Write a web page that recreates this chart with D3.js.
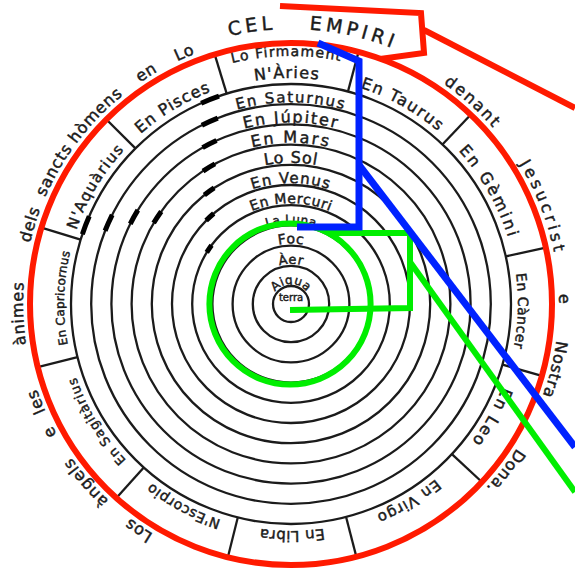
<!DOCTYPE html>
<meta charset="utf-8">
<script src="https://d3js.org/d3.v7.min.js"></script>
<style>
body { margin: 0; background: #fff; }
text { font-family: "DejaVu Sans", sans-serif; fill: #1b1b1b; stroke: #1b1b1b; stroke-width: 0.45px; }
</style>
<div id="my_dataviz"></div>
<script>
// spheres, from the centre out
var spheres = ["terra", "Aigua", "Àer", "Foc", "La Luna", "En Mercuri", "En Venus", "Lo Sol", "En Mars", "En Júpiter", "En Saturnus"];
// zodiac, starting at the top
var signs = ["N'Àries", "En Taurus", "En Gèmini", "En Càncer", "En Leo", "En Virgo", "En Libra", "N'Escorpio", "En Sagitàrius", "En Capricornus", "N'Aquàrius", "En Pisces"];
var signBounds = [-17, 15, 43.5, 77.5, 106, 133, 165.5, 194, 222, 256, 287, 315, 343];
// words written round the outside, with the angle of each
var outerWords = ["Los", "àngels", "e", "les", "ànimes", "dels", "sancts", "hòmens", "en", "Lo", "CEL", "EMPIRI", "denant", "Jesucrist", "e", "Nostra", "Dona."];
var outerAngles = [214, 229, 242, 249, 268, 287, 299.5, 314, 328, 337, 352, 13, 42, 69, 89, 104, 128];
// heavy pen marks on the left: sphere, angle
var marks = [[11, -21.6], [10, -24], [9, -27], [8, -31], [7, -36], [6, -43], [5, -56], [11, -69], [10, -66], [9, -61], [8, -57]];
// coloured pointers
var redBox = [[280, 6], [421, 13], [424, 53], [380, 59]];
var redArrow = [[424, 30], [575, 108]];
var blueLine = [[318, 43], [359, 61], [359, 227], [297, 227]];
var blueArrow = [[359, 165], [575, 447]];
var greenLine = [[327, 233], [410, 233], [410, 308], [290, 310]];
var greenArrow = [[410, 262], [575, 492]];

var width = 575, height = 570;
var cx = 291, cy = 304;

// lettering: font size, letter spacing
var sphereStyle = {"terra": [10, 0], "Aigua": [12, 0.5], "Àer": [13, 0.5], "Foc": [14, 0.5], "La Luna": [12, 0.4],
  "En Mercuri": [14, 0.6], "En Venus": [15, 1.2], "Lo Sol": [16, 0.8], "En Mars": [16, 2.1], "En Júpiter": [16, 1.7], "En Saturnus": [15, 1.7]};
var signStyle = {"N'Àries": [16, 1.2], "En Taurus": [16, 1.5], "En Gèmini": [16, 2.3], "En Càncer": [14, 0.4], "En Leo": [16, 1.8],
  "En Virgo": [15, 1], "En Libra": [15, 0.4], "N'Escorpio": [14, 0.6], "En Sagitàrius": [13, 1], "En Capricornus": [12, 0.2],
  "N'Aquàrius": [15, 1.4], "En Pisces": [16, 1]};
var outerStyle = {"CEL": [19, 4, 275], "EMPIRI": [19, 4, 275], "denant": [16, 2, 268], "Jesucrist": [16, 3.5, 268]};

var svg = d3.select("#my_dataviz")
  .append("svg")
    .attr("width", width)
    .attr("height", height);

var x = d3.scaleLinear().domain([0, 575]).range([0, width]);
var y = d3.scaleLinear().domain([0, 570]).range([0, height]);
var ang = d3.scaleLinear().domain([0, 360]).range([0, 2 * Math.PI]);
var ring = d3.scaleLinear().domain([1, 11]).range([18, 220]);
var rOuter = 261;

var g = svg.append("g").attr("transform", "translate(" + cx + "," + cy + ")");

function pt(a, r) { return d3.pointRadial(ang(a), r); }
// clockwise arc so the letters stand with their tops outward
function arcPath(a, r, half) {
  var p0 = pt(a - half, r), p1 = pt(a + half, r);
  return "M" + p0[0] + "," + p0[1] + "A" + r + "," + r + " 0 0 1 " + p1[0] + "," + p1[1];
}
var defs = svg.append("defs");
var pathId = 0;
function curved(parent, txt, a, r, size, ls) {
  var id = "p" + (pathId++);
  defs.append("path").attr("id", id).attr("d", arcPath(a, r, 89)).attr("transform", "translate(" + cx + "," + cy + ")");
  parent.append("text")
      .style("font-size", size + "px")
      .style("letter-spacing", ls + "px")
    .append("textPath")
      .attr("href", "#" + id)
      .attr("startOffset", "50%")
      .attr("text-anchor", "middle")
      .text(txt);
}

// sphere circles
g.selectAll("circle.sphere")
  .data(spheres)
  .enter()
  .append("circle")
    .attr("class", "sphere")
    .attr("r", function(d, i) { return ring(i + 1); })
    .style("fill", "none")
    .style("stroke", "#1b1b1b")
    .style("stroke-width", 2.3);

// zodiac dividers
g.selectAll("line.div")
  .data(signBounds.slice(0, 12))
  .enter()
  .append("line")
    .attr("x1", function(d) { return pt(d, ring(11))[0]; })
    .attr("y1", function(d) { return pt(d, ring(11))[1]; })
    .attr("x2", function(d) { return pt(d, rOuter)[0]; })
    .attr("y2", function(d) { return pt(d, rOuter)[1]; })
    .style("stroke", "#1b1b1b")
    .style("stroke-width", 2.3);

// heavy marks
var markArc = d3.arc();
g.selectAll("path.mark")
  .data(marks)
  .enter()
  .append("path")
    .attr("d", function(d) {
      var r = ring(d[0]);
      return markArc({innerRadius: r - 2.5, outerRadius: r + 2.5, startAngle: ang(d[1] - 2.5), endAngle: ang(d[1] + 2.5)});
    })
    .style("fill", "#000");

var txt = svg.append("g");
// sphere names at the top of each band
spheres.forEach(function(s, i) {
  var st = sphereStyle[s];
  if (i == 0) {
    txt.append("text").attr("x", cx).attr("y", cy - 3)
      .attr("text-anchor", "middle").style("font-size", st[0] + "px").text(s);
  } else {
    curved(txt, s, 0, ring(i) + 2, st[0], st[1]);
  }
});

// zodiac names
signs.forEach(function(s, i) {
  var a = (signBounds[i] + signBounds[i + 1]) / 2;
  var st = signStyle[s];
  if (i == 0) {
    curved(txt, "Lo Firmament", a, 248, 14, 1.2);
    curved(txt, s, a, 226, st[0], st[1]);
  } else {
    curved(txt, s, a, 227, st[0], st[1]);
  }
});

// outer inscription
outerWords.forEach(function(w, i) {
  var st = outerStyle[w] || [16, 0.8, 268];
  curved(txt, w, outerAngles[i], st[2], st[0], st[1]);
});

var line = d3.line().x(function(d) { return x(d[0]); }).y(function(d) { return y(d[1]); });

// red heaven
svg.append("circle")
  .attr("cx", cx).attr("cy", cy).attr("r", rOuter)
  .style("fill", "none").style("stroke", "#ff1a00").style("stroke-width", 6);
[redBox, redArrow].forEach(function(p) {
  svg.append("path").attr("d", line(p))
    .style("fill", "none").style("stroke", "#ff1a00").style("stroke-width", 6);
});

// green elements
svg.append("circle")
  .attr("cx", cx - 1).attr("cy", cy).attr("r", ring(4) + 2)
  .style("fill", "none").style("stroke", "#00ee00").style("stroke-width", 6);
[greenLine, greenArrow].forEach(function(p) {
  svg.append("path").attr("d", line(p))
    .style("fill", "none").style("stroke", "#00ee00").style("stroke-width", 6);
});

// blue planets
[blueLine, blueArrow].forEach(function(p) {
  svg.append("path").attr("d", line(p))
    .style("fill", "none").style("stroke", "#0022ff").style("stroke-width", 7);
});
</script>
